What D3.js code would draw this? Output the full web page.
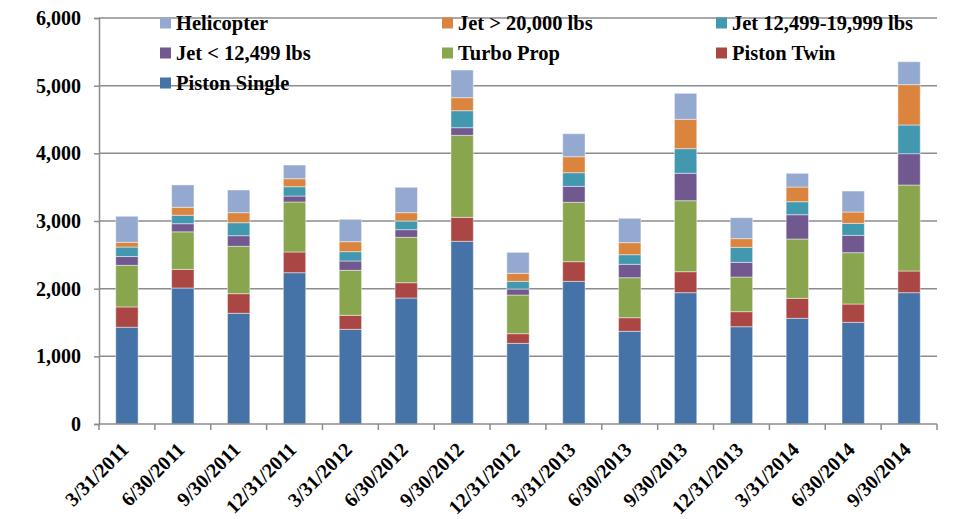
<!DOCTYPE html>
<html>
<head>
<meta charset="utf-8">
<script src="https://cdn.jsdelivr.net/npm/d3@7"></script>
<style>
  body { margin: 0; background: #fff; }
</style>
</head>
<body>
<svg width="961" height="519"></svg>
<script>
// quarters on the x axis
var quarters = ["3/31/2011", "6/30/2011", "9/30/2011", "12/31/2011", "3/31/2012", "6/30/2012",
    "9/30/2012", "12/31/2012", "3/31/2013", "6/30/2013", "9/30/2013", "12/31/2013",
    "3/31/2014", "6/30/2014", "9/30/2014"];

// series values
var pistonSingle = [1430, 2010, 1636, 2236, 1399, 1862, 2700, 1192, 2108, 1370, 1941, 1438, 1562, 1503, 1941];
var pistonTwin   = [300, 275, 290, 306, 207, 226, 354, 143, 291, 201, 310, 222, 295, 270, 320];
var turboProp    = [615, 555, 700, 739, 665, 671, 1212, 571, 877, 591, 1049, 512, 877, 759, 1271];
var jetSmall     = [130, 120, 157, 88, 138, 113, 113, 89, 236, 198, 405, 217, 359, 256, 463];
var jetMid       = [140, 125, 192, 138, 138, 128, 251, 113, 202, 142, 364, 222, 192, 177, 424];
var jetLarge     = [70, 118, 148, 118, 147, 123, 192, 119, 236, 178, 434, 128, 217, 168, 596];
var helicopter   = [385, 330, 335, 202, 331, 375, 409, 310, 340, 360, 384, 310, 203, 310, 339];

var yTicks = [0, 1000, 2000, 3000, 4000, 5000, 6000];

var series = [
    {key: "Piston Single", values: pistonSingle, color: "#4572a7"},
    {key: "Piston Twin", values: pistonTwin, color: "#aa4643"},
    {key: "Turbo Prop", values: turboProp, color: "#89a54e"},
    {key: "Jet < 12,499 lbs", values: jetSmall, color: "#71588f"},
    {key: "Jet 12,499-19,999 lbs", values: jetMid, color: "#4198af"},
    {key: "Jet > 20,000 lbs", values: jetLarge, color: "#db843d"},
    {key: "Helicopter", values: helicopter, color: "#93a9cf"}
];

// legend order as shown, three per row
var legendOrder = ["Helicopter", "Jet > 20,000 lbs", "Jet 12,499-19,999 lbs",
    "Jet < 12,499 lbs", "Turbo Prop", "Piston Twin", "Piston Single"];

var cfg = {left: 99, right: 937, top: 18, bottom: 424};
var FONT = "'Liberation Serif', 'Times New Roman', Times, serif";

var svg = d3.select("svg");

// build rows for d3.stack
var rows = quarters.map(function (q, i) {
    var r = {quarter: q};
    series.forEach(function (s) { r[s.key] = s.values[i]; });
    return r;
});
var stacked = d3.stack().keys(series.map(function (s) { return s.key; }))(rows);

var x = d3.scaleBand()
    .domain(quarters)
    .range([cfg.left, cfg.right])
    .paddingInner(0.6)
    .paddingOuter(0.3);

var y = d3.scaleLinear()
    .domain([0, 6000])
    .range([cfg.bottom, cfg.top]);

// grid lines
svg.append("g")
    .selectAll("line")
    .data(yTicks.slice(1))
    .enter()
    .append("line")
    .attr("x1", cfg.left)
    .attr("x2", cfg.right)
    .attr("y1", function (d) { return y(d); })
    .attr("y2", function (d) { return y(d); })
    .attr("stroke", "#8c8c8c")
    .attr("stroke-width", 1.5);

// bars
var colorOf = {};
series.forEach(function (s) { colorOf[s.key] = s.color; });

svg.append("g")
    .selectAll("g")
    .data(stacked)
    .enter()
    .append("g")
    .attr("fill", function (d) { return colorOf[d.key]; })
    .selectAll("rect")
    .data(function (d) { return d; })
    .enter()
    .append("rect")
    .attr("x", function (d) { return x(d.data.quarter); })
    .attr("y", function (d) { return y(d[1]); })
    .attr("width", x.bandwidth())
    .attr("height", function (d) { return y(d[0]) - y(d[1]); })
    .attr("stroke", "#ffffff")
    .attr("stroke-opacity", 0.45)
    .attr("stroke-width", 1);

// y axis
var yAxis = d3.axisLeft(y)
    .tickValues(yTicks)
    .tickFormat(d3.format(","))
    .tickSize(5)
    .tickPadding(13);
var gy = svg.append("g")
    .attr("transform", "translate(" + cfg.left + ",0)")
    .call(yAxis);
gy.attr("font-family", null).attr("font-size", null);
gy.select(".domain").attr("stroke", "#8c8c8c").attr("stroke-width", 1.5);
gy.selectAll(".tick line").attr("stroke", "#8c8c8c").attr("stroke-width", 1.5);
gy.selectAll("text")
    .attr("font-family", FONT)
    .attr("font-weight", "bold")
    .attr("font-size", 20)
    .attr("fill", "#000");

// x axis: line, boundary ticks, rotated labels
var step = x.step();
svg.append("line")
    .attr("x1", cfg.left).attr("x2", cfg.right)
    .attr("y1", cfg.bottom).attr("y2", cfg.bottom)
    .attr("stroke", "#8c8c8c").attr("stroke-width", 1.5);

svg.append("g")
    .selectAll("line")
    .data(d3.range(quarters.length + 1))
    .enter()
    .append("line")
    .attr("x1", function (i) { return cfg.left + i * step; })
    .attr("x2", function (i) { return cfg.left + i * step; })
    .attr("y1", cfg.bottom)
    .attr("y2", cfg.bottom + 6)
    .attr("stroke", "#8c8c8c")
    .attr("stroke-width", 1.5);

svg.append("g")
    .selectAll("text")
    .data(quarters)
    .enter()
    .append("text")
    .attr("transform", function (d) {
        return "translate(" + (x(d) + x.bandwidth() / 2 + 3) + "," + (cfg.bottom + 27) + ") rotate(-45)";
    })
    .attr("text-anchor", "end")
    .attr("font-family", FONT)
    .attr("font-weight", "bold")
    .attr("font-size", 20)
    .text(function (d) { return d; });

// legend
var legendCols = [160, 442, 716];
var legendRows = [23, 53, 83];
var legend = svg.append("g")
    .selectAll("g")
    .data(legendOrder)
    .enter()
    .append("g")
    .attr("transform", function (d, i) {
        return "translate(" + legendCols[i % 3] + "," + legendRows[Math.floor(i / 3)] + ")";
    });
legend.append("rect")
    .attr("x", 0)
    .attr("y", -5.5)
    .attr("width", 11)
    .attr("height", 11)
    .attr("fill", function (d) { return colorOf[d]; });
legend.append("text")
    .attr("x", 16)
    .attr("dy", "0.35em")
    .attr("font-family", FONT)
    .attr("font-weight", "bold")
    .attr("font-size", 20.5)
    .text(function (d) { return d; });
</script>
</body>
</html>
